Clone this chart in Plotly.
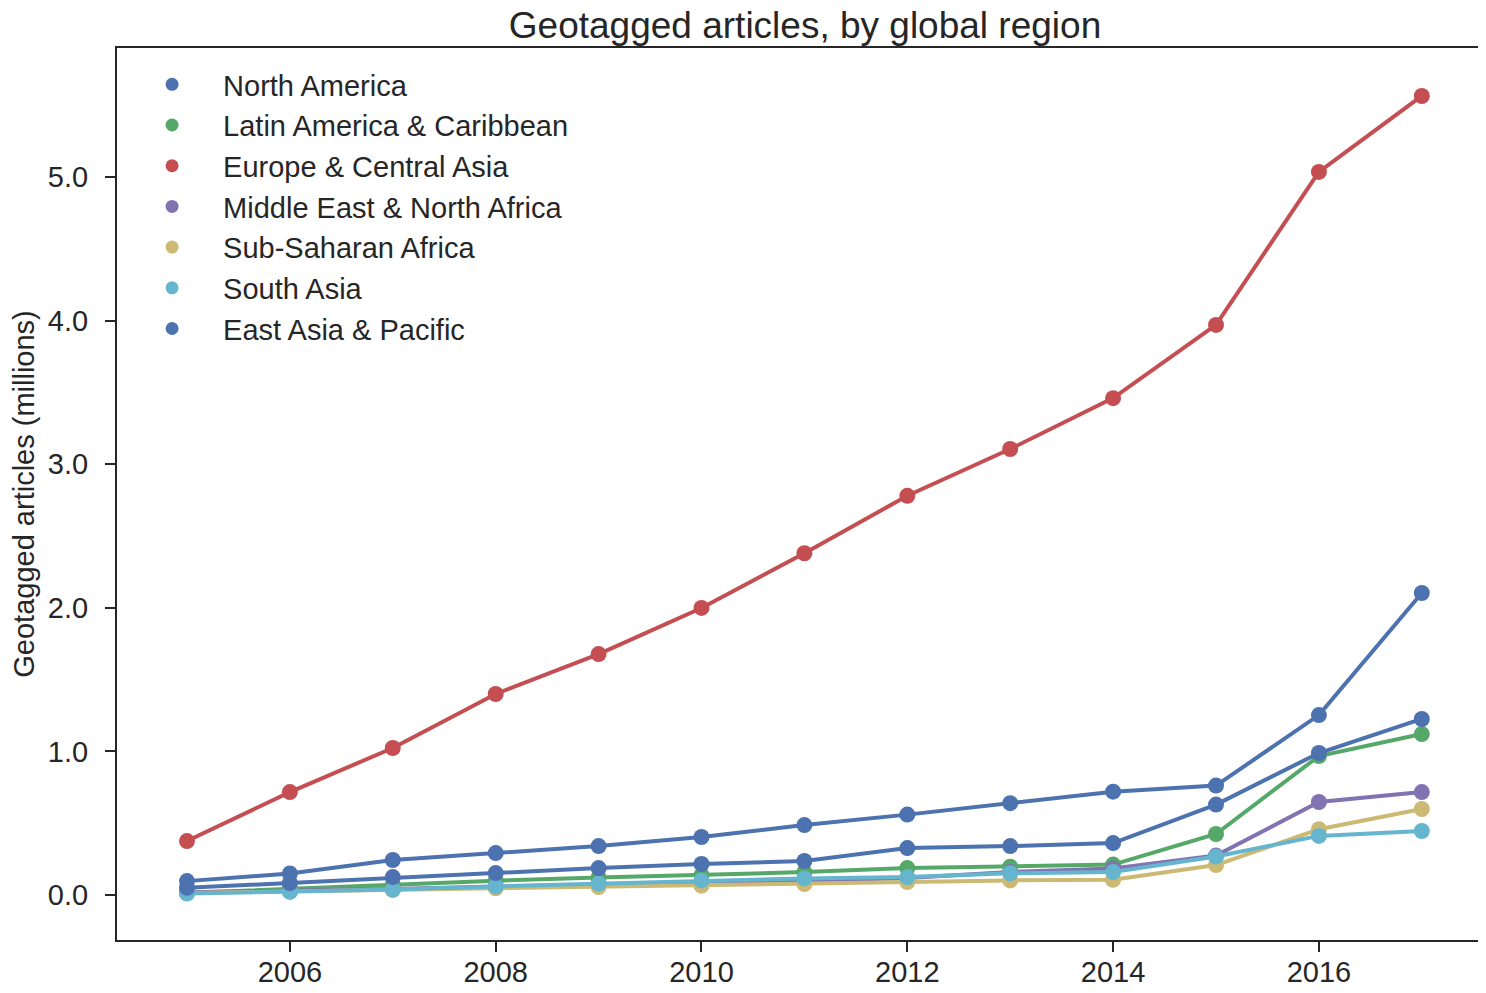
import plotly.graph_objects as go

years = list(range(2005, 2018))

regions = [
    "North America",
    "Latin America & Caribbean",
    "Europe & Central Asia",
    "Middle East & North Africa",
    "Sub-Saharan Africa",
    "South Asia",
    "East Asia & Pacific",
]

north_america = [0.097, 0.150, 0.244, 0.292, 0.341, 0.404, 0.487, 0.560, 0.640, 0.720, 0.762, 1.253, 2.103]
latin_america = [0.015, 0.045, 0.075, 0.100, 0.122, 0.139, 0.160, 0.188, 0.197, 0.212, 0.425, 0.968, 1.121]
europe = [0.376, 0.717, 1.024, 1.400, 1.678, 1.999, 2.380, 2.780, 3.106, 3.460, 3.970, 5.035, 5.564]
mena = [0.020, 0.030, 0.042, 0.060, 0.072, 0.084, 0.097, 0.118, 0.160, 0.185, 0.275, 0.648, 0.717]
ssa = [0.015, 0.025, 0.035, 0.047, 0.056, 0.065, 0.077, 0.090, 0.102, 0.106, 0.209, 0.458, 0.599]
south_asia = [0.010, 0.022, 0.038, 0.060, 0.080, 0.102, 0.116, 0.125, 0.152, 0.160, 0.268, 0.412, 0.446]
east_asia = [0.050, 0.084, 0.125, 0.153, 0.188, 0.216, 0.237, 0.327, 0.341, 0.362, 0.630, 0.989, 1.226]

series = [north_america, latin_america, europe, mena, ssa, south_asia, east_asia]
colors = ["#4C72B0", "#55A868", "#C44E52", "#8172B2", "#CCB974", "#64B5CD", "#4C72B0"]

y_ticks = [0.0, 1.0, 2.0, 3.0, 4.0, 5.0]
y_tick_labels = ["0.0", "1.0", "2.0", "3.0", "4.0", "5.0"]
x_ticks = [2006, 2008, 2010, 2012, 2014, 2016]

FONT = "Arial, Liberation Sans, sans-serif"
INK = "#262626"

fig = go.Figure()
for name, vals, col in zip(regions, series, colors):
    fig.add_trace(go.Scatter(
        x=years, y=vals, mode="lines+markers", name=name,
        line=dict(color=col, width=4),
        marker=dict(color=col, size=16),
        showlegend=False,
    ))
for name, col in zip(regions, colors):
    fig.add_trace(go.Scatter(
        x=[None], y=[None], mode="markers", name=name,
        marker=dict(color=col, size=13),
        legendgroup=name, showlegend=True,
    ))

axis_common = dict(
    showline=True, linecolor=INK, linewidth=2.2,
    ticks="outside", ticklen=10, tickwidth=2, tickcolor=INK,
    showgrid=False, zeroline=False, automargin=False,
    tickfont=dict(family=FONT, size=29, color=INK),
)

fig.update_layout(
    width=1470, height=977,
    paper_bgcolor="white", plot_bgcolor="white",
    margin=dict(l=109, r=0, t=40, b=45),
    title=dict(text="Geotagged articles, by global region", x=0.5422, xanchor="center",
               y=0.9826, yanchor="middle",
               font=dict(family=FONT, size=37, color=INK)),
    font=dict(family=FONT, color=INK),
    xaxis=dict(range=[2004.32, 2017.546], tickvals=x_ticks, ticklabelstandoff=-5,
               mirror=True, **axis_common),
    yaxis=dict(range=[-0.313, 5.898], tickvals=y_ticks, ticktext=y_tick_labels,
               ticklabelstandoff=11, mirror=False,
               title=dict(text="Geotagged articles (millions)", standoff=12,
                          font=dict(family=FONT, size=29, color=INK)),
               **axis_common),
    legend=dict(x=0.003, y=0.9877, xanchor="left", yanchor="top",
                bgcolor="rgba(0,0,0,0)", font=dict(family=FONT, size=29, color=INK),
                itemwidth=92, tracegroupgap=0, traceorder="grouped"),
)

fig.write_html("out.html")
